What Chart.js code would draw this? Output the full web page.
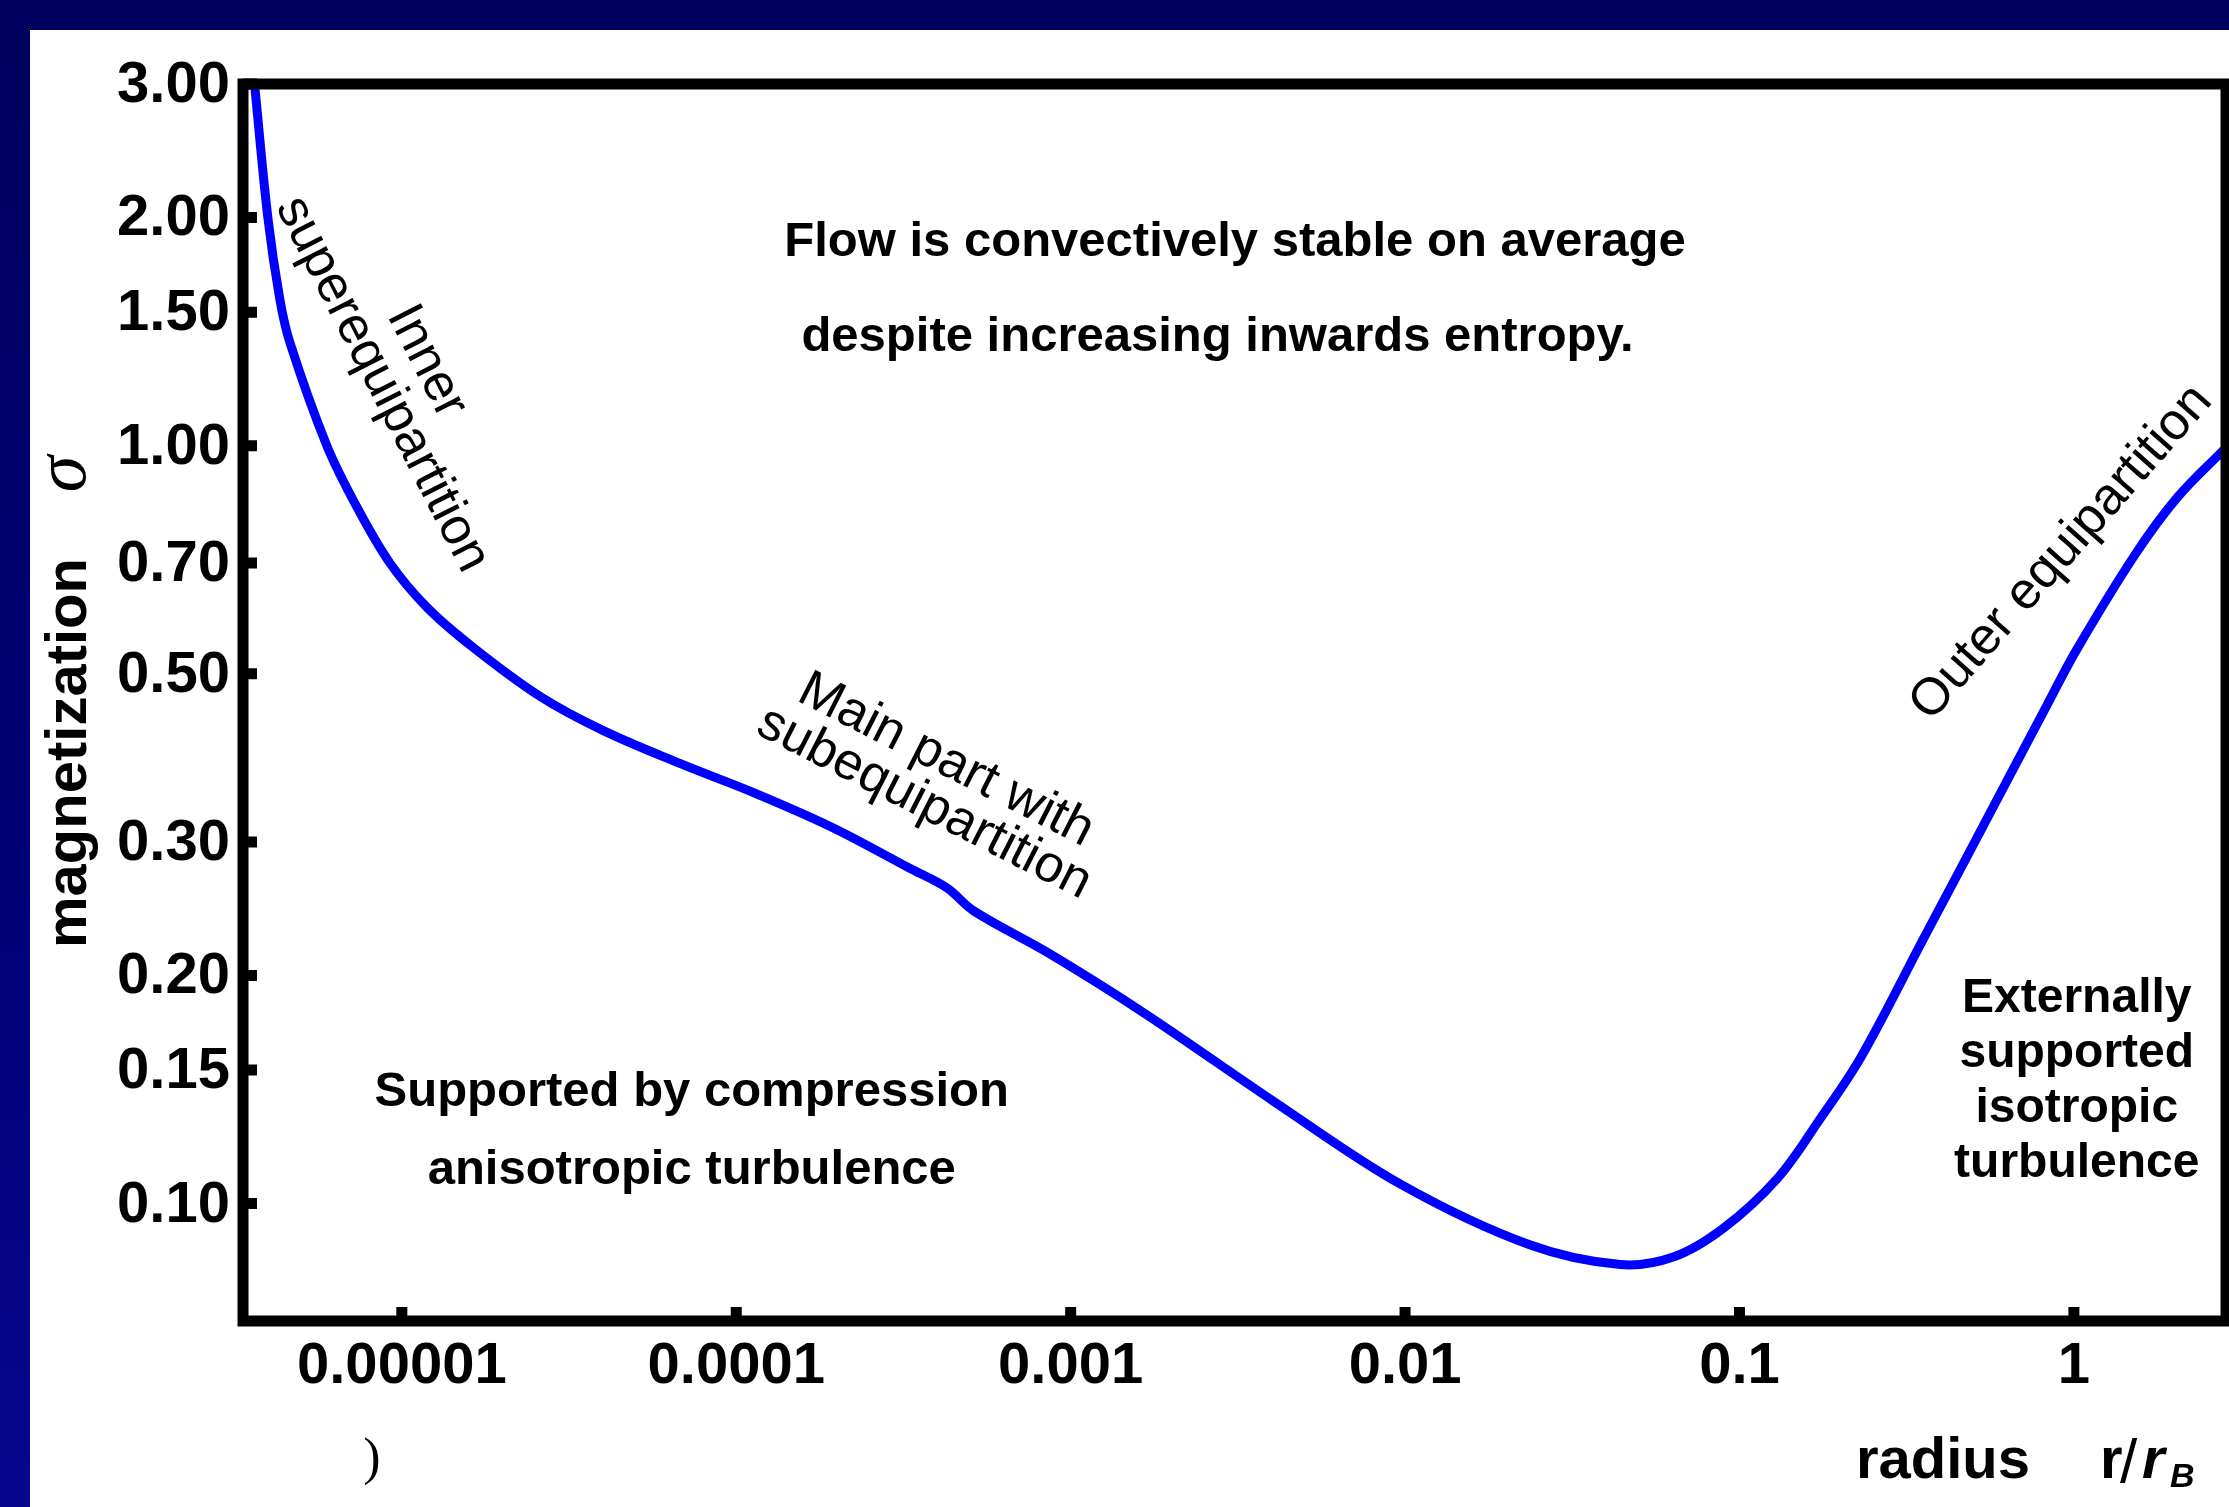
<!DOCTYPE html>
<html>
<head>
<meta charset="utf-8">
<script src="https://cdn.jsdelivr.net/npm/chart.js@4.4.0/dist/chart.umd.min.js"></script>
<style>
  html, body { margin: 0; padding: 0; }
  body {
    width: 2229px; height: 1507px; overflow: hidden; position: relative;
    background: linear-gradient(to bottom, #00005e 0%, #000074 55%, #07078e 100%);
  }
  #panel { position: absolute; left: 30px; top: 30px; width: 2199px; height: 1477px; background: #fff; }
  #chart { display: block; }
</style>
</head>
<body>
<div id="panel"><canvas id="chart" width="2199" height="1477"></canvas></div>
<script>
// radius r/r_B and magnetization sigma
const radius = [3.63e-6, 3.975e-6, 4.317e-6, 4.625e-6, 5.965e-6, 7.335e-6, 9.21e-6,
  1.188e-5, 1.631e-5, 2.587e-5, 3.99e-5, 6.78e-5, 1.145e-4, 1.945e-4, 3.28e-4, 4.26e-4, 5.13e-4,
  8.67e-4, 1.678e-3, 4.05e-3, 9.72e-3, 0.02346, 0.0440, 0.0637, 0.0898, 0.1302,
  0.1733, 0.2307, 0.3535, 0.4708, 0.6262, 0.8333, 1.0174, 1.522, 2.046, 2.85];
const sigma = [2.99, 2.0, 1.56, 1.368, 1.0, 0.830, 0.700,
  0.612, 0.542, 0.467, 0.421, 0.3808, 0.3475, 0.3133, 0.2774, 0.261, 0.2433,
  0.2135, 0.1778, 0.1364, 0.1060, 0.0883, 0.0831, 0.0851, 0.0929, 0.1081,
  0.1289, 0.1560, 0.2228, 0.2829, 0.3589, 0.4557, 0.5373, 0.7176, 0.8561, 0.994];

const xTicks = [1e-5, 1e-4, 1e-3, 1e-2, 0.1, 1];
const xTickLabels = ['0.00001', '0.0001', '0.001', '0.01', '0.1', '1'];
const yTicks = [0.1, 0.15, 0.2, 0.3, 0.5, 0.7, 1, 1.5, 2, 3];
const yTickLabels = ['0.10', '0.15', '0.20', '0.30', '0.50', '0.70', '1.00', '1.50', '2.00', '3.00'];

const FONT = '"Liberation Sans", Arial, sans-serif';

// text notes placed in data coordinates (radius, sigma)
const notes = [
  { lines: ['Flow is convectively stable on average'], r: 3.10e-3, s: 1.855, angle: 0, font: 'bold 49px ' + FONT },
  { lines: ['despite increasing inwards entropy.'], r: 2.75e-3, s: 1.389, angle: 0, font: 'bold 49px ' + FONT },
  { lines: ['Supported by compression', 'anisotropic turbulence'], r: 7.36e-5, s: 0.1245, angle: 0, gap: 78, font: 'bold 49px ' + FONT },
  { lines: ['Externally', 'supported', 'isotropic', 'turbulence'], r: 1.02, s: 0.145, angle: 0, gap: 54.7, font: 'bold 48px ' + FONT },
  { lines: ['Inner', 'superequipartition'], r: 1.017e-5, s: 1.247, angle: 63, gap: 50, font: '52px ' + FONT },
  { lines: ['Main part with', 'subequipartition'], r: 3.93e-4, s: 0.360, angle: 27, gap: 48, font: '52px ' + FONT },
  { lines: ['Outer equipartition'], r: 0.9175, s: 0.7222, angle: -48.6, font: '52px ' + FONT }
];

const framePlugin = {
  id: 'frame',
  afterDatasetsDraw(chart) {
    const { ctx, chartArea: a, scales: { x, y } } = chart;
    ctx.save();
    ctx.strokeStyle = '#000';
    ctx.lineWidth = 11;
    ctx.strokeRect(a.left, a.top, a.right - a.left, a.bottom - a.top);

    // stubby inward ticks
    ctx.beginPath();
    xTicks.forEach(v => {
      const px = x.getPixelForValue(v);
      ctx.moveTo(px, a.bottom); ctx.lineTo(px, a.bottom - 14);
    });
    yTicks.forEach(v => {
      const py = y.getPixelForValue(v);
      ctx.moveTo(a.left, py); ctx.lineTo(a.left + 14, py);
    });
    ctx.stroke();

    ctx.fillStyle = '#000';
    notes.forEach(n => {
      const gap = n.gap || 0;
      ctx.save();
      ctx.translate(x.getPixelForValue(n.r), y.getPixelForValue(n.s));
      ctx.rotate(n.angle * Math.PI / 180);
      ctx.font = n.font;
      ctx.textAlign = 'center';
      ctx.textBaseline = 'middle';
      n.lines.forEach((t, i) => ctx.fillText(t, 0, (i - (n.lines.length - 1) / 2) * gap));
      ctx.restore();
    });

    // axis titles
    ctx.save();
    ctx.translate(56, 723);
    ctx.rotate(-Math.PI / 2);
    ctx.font = 'bold 58px ' + FONT;
    ctx.textAlign = 'center';
    ctx.textBaseline = 'alphabetic';
    ctx.fillText('magnetization', 0, 0);
    ctx.restore();

    ctx.save();
    ctx.translate(55, 444);
    ctx.rotate(-Math.PI / 2);
    ctx.font = 'italic 74px "Liberation Serif", serif';
    ctx.textAlign = 'center';
    ctx.textBaseline = 'alphabetic';
    ctx.fillText('σ', 0, 0);
    ctx.restore();

    ctx.textBaseline = 'alphabetic';
    ctx.textAlign = 'center';
    ctx.font = 'bold 58px ' + FONT;
    ctx.fillText('radius', 1913, 1448);

    ctx.textAlign = 'left';
    ctx.font = 'bold 58px ' + FONT;
    ctx.fillText('r', 2070, 1448);
    ctx.font = '62px ' + FONT;
    ctx.fillText('/', 2090, 1452);
    ctx.font = 'italic bold 58px ' + FONT;
    ctx.fillText('r', 2112, 1448);
    ctx.font = 'italic bold 34px ' + FONT;
    ctx.fillText('B', 2140, 1457);

    ctx.textAlign = 'center';
    ctx.textBaseline = 'middle';
    ctx.font = '52px "Liberation Serif", serif';
    ctx.fillText(')', 342, 1430);
    ctx.restore();
  }
};

new Chart(document.getElementById('chart'), {
  type: 'line',
  data: {
    datasets: [{
      data: radius.map((r, i) => ({ x: r, y: sigma[i] })),
      borderColor: '#0000ff',
      borderWidth: 9,
      pointRadius: 0,
      tension: 0.35,
      fill: false
    }]
  },
  options: {
    responsive: false,
    animation: false,
    layout: { padding: { top: 54, right: 3, left: 0, bottom: 0 } },
    plugins: { legend: { display: false }, tooltip: { enabled: false } },
    scales: {
      x: {
        type: 'logarithmic',
        min: 3.35e-6,
        max: 2.85,
        afterBuildTicks: s => { s.ticks = xTicks.map(v => ({ value: v })); },
        afterFit: s => { s.height = 186; },
        grid: { display: false, drawTicks: false },
        border: { display: false },
        ticks: {
          color: '#000',
          padding: 11,
          autoSkip: false,
          maxRotation: 0,
          font: { family: FONT, size: 58, weight: 'bold' },
          callback: (v, i) => xTickLabels[i]
        }
      },
      y: {
        type: 'logarithmic',
        min: 0.07,
        max: 3.0,
        afterBuildTicks: s => { s.ticks = yTicks.map(v => ({ value: v })); },
        afterFit: s => { s.width = 213; },
        grid: { display: false, drawTicks: false },
        border: { display: false },
        ticks: {
          color: '#000',
          padding: 13,
          labelOffset: 2,
          autoSkip: false,
          font: { family: FONT, size: 58, weight: 'bold' },
          callback: (v, i) => yTickLabels[i]
        }
      }
    }
  },
  plugins: [framePlugin]
});
</script>
</body>
</html>
